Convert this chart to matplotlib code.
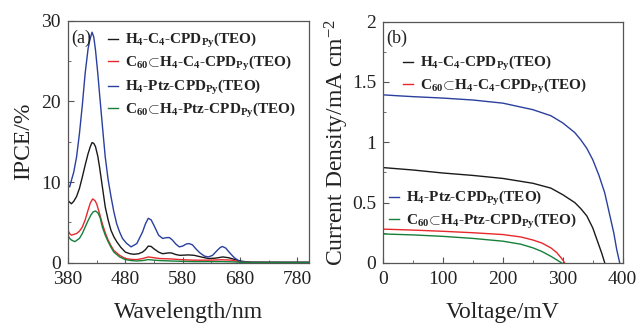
import matplotlib
matplotlib.use("Agg")
import matplotlib.pyplot as plt
from matplotlib.ticker import MultipleLocator

plt.rcParams['font.family'] = ['Liberation Serif', 'DejaVu Serif']
plt.rcParams['mathtext.fontset'] = 'custom'
plt.rcParams['mathtext.rm'] = 'Liberation Serif'
plt.rcParams['mathtext.bf'] = 'Liberation Serif:bold'
plt.rcParams['mathtext.it'] = 'Liberation Serif:italic'

# ---------------- data: IPCE (panel a) ----------------
wl_blue = [380, 383, 386, 390, 395, 400, 405, 410, 415, 418, 422, 425, 428, 432, 435, 440, 445, 450, 455, 460, 465, 470, 475,
           482, 490, 500, 510, 515, 520, 525, 530, 538, 545, 552, 557, 562, 568, 574, 580, 586, 591, 597, 603, 610, 618, 625,
           632, 640, 645, 649, 655, 662, 670, 678, 684, 690, 700, 720, 750, 780, 800]
ipce_blue = [9.6, 9.4, 10.2, 11.2, 13.1, 16.0, 19.5, 23.5, 26.5, 27.6, 28.6, 28.0, 26.4, 23.5, 21.0, 17.0, 13.1, 10.3, 8.2, 6.3, 4.8, 3.8, 3.0,
             2.4, 1.95, 2.36, 3.8, 4.8, 5.5, 5.3, 4.6, 3.4, 3.0, 3.1, 3.1, 2.8, 2.3, 1.95, 2.05, 2.3, 2.36, 2.2, 1.7, 1.2, 0.8, 0.7,
             0.9, 1.5, 1.85, 2.0, 1.8, 1.2, 0.6, 0.2, 0.05, 0.03, 0.02, 0.02, 0.02, 0.02, 0.02]

wl_black = [380, 383, 386, 390, 395, 400, 405, 410, 415, 419, 422, 425, 428, 432, 435, 440, 445, 450, 455, 460, 465, 472, 480,
            488, 495, 503, 510, 515, 520, 525, 530, 538, 545, 555, 560, 568, 575, 590, 600, 612, 625, 637, 650, 660, 670, 680,
            690, 700, 750, 800]
ipce_black = [7.7, 7.5, 7.3, 7.6, 8.2, 9.2, 10.6, 12.1, 13.5, 14.4, 14.9, 14.8, 14.4, 13.2, 11.9, 9.4, 6.9, 5.3, 4.0, 3.2, 2.6, 1.9, 1.3,
              1.1, 1.03, 1.1, 1.3, 1.6, 2.05, 2.0, 1.7, 1.3, 1.1, 1.2, 1.2, 1.0, 0.9, 0.95, 0.9, 0.7, 0.5, 0.55, 0.7, 0.6, 0.4, 0.2,
              0.1, 0.05, 0.03, 0.03]

wl_red = [380, 383, 386, 390, 395, 400, 405, 410, 415, 419, 423, 427, 430, 435, 440, 445, 450, 455, 460, 465, 470, 480,
          490, 500, 510, 520, 530, 540, 560, 580, 600, 625, 650, 665, 680, 690, 700, 750, 800]
ipce_red = [4.0, 3.6, 3.4, 3.5, 3.6, 3.9, 4.4, 5.3, 6.5, 7.4, 7.9, 7.7, 7.3, 6.1, 4.8, 3.7, 2.8, 2.1, 1.5, 1.2, 0.9, 0.5,
            0.4, 0.37, 0.5, 0.7, 0.6, 0.5, 0.45, 0.35, 0.3, 0.3, 0.35, 0.3, 0.1, 0.05, 0.03, 0.02, 0.02]

wl_green = [380, 383, 386, 389, 392, 396, 400, 405, 410, 415, 420, 424, 428, 432, 436, 440, 445, 450, 455, 460, 465, 470, 480,
            490, 500, 510, 520, 530, 540, 560, 580, 600, 625, 650, 670, 680, 690, 700, 750, 800]
ipce_green = [3.4, 3.0, 2.8, 2.7, 2.6, 2.8, 3.0, 3.6, 4.4, 5.2, 5.9, 6.3, 6.4, 6.2, 5.6, 4.4, 3.4, 2.6, 1.9, 1.3, 1.0, 0.7, 0.37,
              0.25, 0.2, 0.25, 0.37, 0.3, 0.25, 0.2, 0.15, 0.12, 0.12, 0.12, 0.08, 0.04, 0.03, 0.02, 0.02, 0.02]

# ---------------- data: J-V (panel b) ----------------
v_blue = [0, 25, 50, 100, 150, 200, 250, 280, 300, 320, 330, 340, 350, 360, 370, 380, 385, 390, 395]
j_blue = [1.393, 1.385, 1.378, 1.366, 1.35, 1.324, 1.27, 1.22, 1.16, 1.08, 1.02, 0.95, 0.855, 0.73, 0.58, 0.36, 0.25, 0.11, 0.0]

v_black = [0, 25, 50, 100, 150, 200, 250, 280, 300, 320, 330, 340, 350, 355, 360, 365, 370]
j_black = [0.79, 0.78, 0.77, 0.745, 0.725, 0.70, 0.66, 0.62, 0.565, 0.50, 0.45, 0.39, 0.29, 0.22, 0.15, 0.08, 0.0]

v_red = [0, 50, 100, 150, 200, 230, 250, 265, 280, 290, 295, 300, 303]
j_red = [0.28, 0.272, 0.262, 0.25, 0.235, 0.215, 0.19, 0.165, 0.125, 0.085, 0.055, 0.025, 0.0]

v_green = [0, 50, 100, 150, 200, 230, 250, 265, 280, 290, 298]
j_green = [0.24, 0.232, 0.22, 0.203, 0.18, 0.155, 0.125, 0.095, 0.055, 0.025, 0.0]

labels = [r'H$_\mathbf{4}$-C$_\mathbf{4}$-CPD$_\mathbf{Py}$(TEO)',
          r'C$_\mathbf{60}\!\subset\!$H$_\mathbf{4}$-C$_\mathbf{4}$-CPD$_\mathbf{Py}$(TEO)',
          r'H$_\mathbf{4}$-Ptz-CPD$_\mathbf{Py}$(TEO)',
          r'C$_\mathbf{60}\!\subset\!$H$_\mathbf{4}$-Ptz-CPD$_\mathbf{Py}$(TEO)']
colors = ['#1a1a1a', '#e8282b', '#2a3f9e', '#16803a']

W, H = 641, 327
fig = plt.figure(figsize=(6.41, 3.27), dpi=100)
ax1 = fig.add_axes([0.106, 0.197, 0.376, 0.739])
ax2 = fig.add_axes([0.5975, 0.196, 0.374, 0.738])

frame_c = '#555555'
txt_c = '#222222'
for ax in (ax1, ax2):
    for s in ax.spines.values():
        s.set_color(frame_c)
        s.set_linewidth(0.9)
    ax.tick_params(which='both', direction='in', top=False, right=False, colors=frame_c,
                   labelcolor=txt_c, labelsize=14, pad=5)
    ax.tick_params(axis='x', which='major', pad=6)
    ax.tick_params(which='major', length=4)
    ax.tick_params(which='minor', length=2.5)


def add_legend(ax, handles, labs, x_px, ytop_px):
    lg = ax.legend(handles, labs, loc='upper left', bbox_to_anchor=(x_px / W, 1 - ytop_px / H),
                   bbox_transform=fig.transFigure, frameon=False,
                   prop={'weight': 'bold', 'size': 11}, handlelength=0.66,
                   handletextpad=0.46, labelspacing=0.25, borderaxespad=0, borderpad=0)
    for t in lg.get_texts():
        t.set_color(txt_c)
    return lg


# panel a
lw = 1.0
l1, = ax1.plot(wl_black, ipce_black, color=colors[0], lw=lw)
l2, = ax1.plot(wl_red, ipce_red, color=colors[1], lw=lw)
l3, = ax1.plot(wl_blue, ipce_blue, color=colors[2], lw=lw)
l4, = ax1.plot(wl_green, ipce_green, color=colors[3], lw=lw)
ax1.set_xlim(380, 800)
ax1.set_ylim(0, 30)
ax1.set_xticks([380, 480, 580, 680, 780])
ax1.set_xticks([430, 530, 630, 730], minor=True)
ax1.set_yticks([0, 10, 20, 30])
ax1.yaxis.set_minor_locator(MultipleLocator(5))
ax1.set_xlabel('Wavelength/nm', fontsize=17, color=txt_c, labelpad=10)
ax1.set_ylabel('IPCE/%', fontsize=17, color=txt_c)
ax1.yaxis.set_label_coords(-0.14, 0.5)
ax1.text(0.012, 0.965, '(a)', transform=ax1.transAxes, fontsize=13, va='top', ha='left', color=txt_c)
la1 = add_legend(ax1, [l1, l2], labels[:2], 108, 31)
ax1.add_artist(la1)
la2 = add_legend(ax1, [l3, l4], labels[2:], 108, 78)

# panel b
m1, = ax2.plot(v_black, j_black, color=colors[0], lw=lw)
m2, = ax2.plot(v_red, j_red, color=colors[1], lw=lw)
m3, = ax2.plot(v_blue, j_blue, color=colors[2], lw=lw)
m4, = ax2.plot(v_green, j_green, color=colors[3], lw=lw)
ax2.set_xlim(0, 400)
ax2.set_ylim(0, 2)
ax2.set_xticks([0, 100, 200, 300, 400])
ax2.xaxis.set_minor_locator(MultipleLocator(50))
ax2.set_yticks([0, 0.5, 1, 1.5, 2])
ax2.set_yticklabels(['0', '0.5', '1', '1.5', '2'])
ax2.yaxis.set_minor_locator(MultipleLocator(0.25))
ax2.set_xlabel('Voltage/mV', fontsize=17, color=txt_c, labelpad=10)
ax2.set_ylabel(r'Current Density/mA cm$^{-2}$', fontsize=17, color=txt_c)
ax2.yaxis.set_label_coords(-0.135, 0.5)
ax2.text(0.012, 0.965, '(b)', transform=ax2.transAxes, fontsize=13, va='top', ha='left', color=txt_c)
lb1 = add_legend(ax2, [m1, m2], labels[:2], 403, 54)
ax2.add_artist(lb1)
lb2 = add_legend(ax2, [m3, m4], labels[2:], 389, 189)

fig.savefig('out.png', dpi=100)
